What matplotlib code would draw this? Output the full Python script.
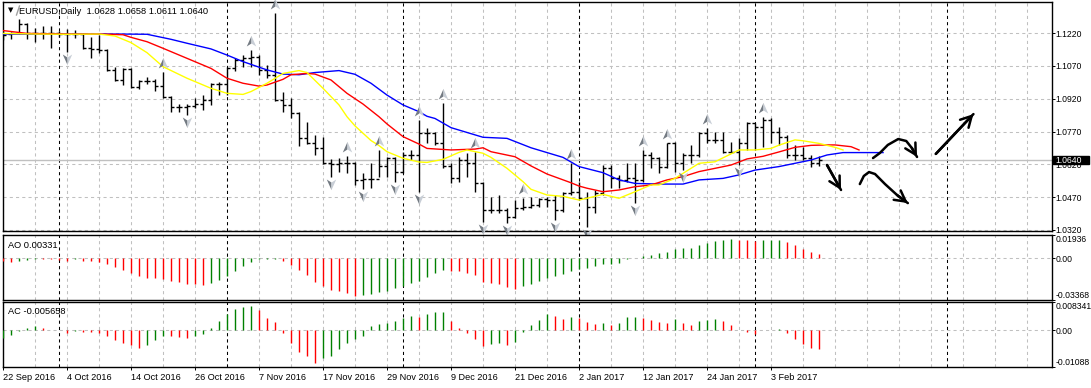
import numpy as np
import matplotlib
matplotlib.use("Agg")
import matplotlib.pyplot as plt
from matplotlib.path import Path
from matplotlib.lines import Line2D
from matplotlib.patches import Rectangle
from matplotlib.transforms import offset_copy

plt.rcParams['font.family'] = ['Liberation Sans', 'DejaVu Sans']

# ---------------- data ----------------
title_text = "EURUSD,Daily  1.0628 1.0658 1.0611 1.0640"
ao_text = "AO 0.00331"
ac_text = "AC -0.005658"

date_labels = ['22 Sep 2016', '4 Oct 2016', '14 Oct 2016', '26 Oct 2016', '7 Nov 2016',
               '17 Nov 2016', '29 Nov 2016', '9 Dec 2016', '21 Dec 2016', '2 Jan 2017',
               '12 Jan 2017', '24 Jan 2017', '3 Feb 2017']
date_bars = [0, 8, 16, 24, 32, 40, 48, 56, 64, 72, 80, 88, 96]
month_starts = [7, 28, 50, 72, 94, 118]

opens = [1.1215, 1.1215, 1.1219, 1.1262, 1.1219, 1.1219, 1.1222, 1.1219, 1.1215, 1.1215,
         1.1215, 1.1151, 1.1146, 1.1143, 1.1052, 1.1006, 1.1055, 1.0972, 1.1001, 1.1001,
         1.0978, 1.0930, 1.0881, 1.0881, 1.0887, 1.0896, 1.0915, 1.0988, 1.0988, 1.1059,
         1.1097, 1.1105, 1.1113, 1.1052, 1.1029, 1.0915, 1.0892, 1.0854, 1.0739, 1.0716,
         1.0693, 1.0625, 1.0622, 1.0625, 1.0628, 1.0549, 1.0553, 1.0552, 1.0614, 1.0648,
         1.0587, 1.0663, 1.0663, 1.0762, 1.0762, 1.0716, 1.0614, 1.0556, 1.0640, 1.0625,
         1.0533, 1.0411, 1.0411, 1.0411, 1.0381, 1.0419, 1.0427, 1.0434, 1.0460, 1.0457,
         1.0411, 1.0488, 1.0495, 1.0465, 1.0427, 1.0488, 1.0602, 1.0556, 1.0549, 1.0556,
         1.0549, 1.0663, 1.0648, 1.0610, 1.0716, 1.0625, 1.0663, 1.0663, 1.0762, 1.0732,
         1.0732, 1.0678, 1.0678, 1.0716, 1.0808, 1.0793, 1.0823, 1.0770, 1.0747, 1.0663,
         1.0663, 1.0648, 1.0628]
highs = [1.1235, 1.1227, 1.1283, 1.1265, 1.1242, 1.1253, 1.1253, 1.1232, 1.1238, 1.1235,
         1.1219, 1.1204, 1.1212, 1.1146, 1.1067, 1.1059, 1.1059, 1.1006, 1.1018, 1.1009,
         1.1044, 1.0933, 1.0896, 1.0896, 1.0922, 1.0937, 1.0991, 1.0999, 1.1067, 1.1105,
         1.1120, 1.1143, 1.1120, 1.1075, 1.1311, 1.0953, 1.0922, 1.0861, 1.0815, 1.0754,
         1.0747, 1.0643, 1.0648, 1.0658, 1.0632, 1.0579, 1.0625, 1.0686, 1.0655, 1.0655,
         1.0678, 1.0686, 1.0823, 1.0785, 1.0770, 1.0899, 1.0625, 1.0655, 1.0671, 1.0675,
         1.0541, 1.0472, 1.0480, 1.0419, 1.0457, 1.0465, 1.0472, 1.0465, 1.0472, 1.0480,
         1.0495, 1.0625, 1.0541, 1.0495, 1.0503, 1.0617, 1.0617, 1.0572, 1.0625, 1.0625,
         1.0686, 1.0678, 1.0655, 1.0719, 1.0724, 1.0671, 1.0708, 1.0770, 1.0785, 1.0770,
         1.0770, 1.0724, 1.0739, 1.0815, 1.0811, 1.0838, 1.0831, 1.0793, 1.0754, 1.0708,
         1.0701, 1.0663, 1.0658]
lows = [1.1189, 1.1192, 1.1215, 1.1192, 1.1181, 1.1192, 1.1151, 1.1201, 1.1136, 1.1197,
        1.1146, 1.1105, 1.1131, 1.1049, 1.1003, 1.0983, 1.0968, 1.0963, 1.0988, 1.0957,
        1.0922, 1.0861, 1.0861, 1.0846, 1.0876, 1.0869, 1.0892, 1.0937, 1.0937, 1.1049,
        1.1067, 1.1067, 1.1029, 1.1014, 1.0911, 1.0861, 1.0831, 1.0704, 1.0713, 1.0663,
        1.0622, 1.0564, 1.0587, 1.0579, 1.0526, 1.0506, 1.0511, 1.0564, 1.0564, 1.0541,
        1.0579, 1.0640, 1.0495, 1.0716, 1.0708, 1.0602, 1.0533, 1.0541, 1.0564, 1.0495,
        1.0358, 1.0396, 1.0396, 1.0350, 1.0373, 1.0411, 1.0419, 1.0427, 1.0427, 1.0366,
        1.0404, 1.0480, 1.0457, 1.0335, 1.0396, 1.0480, 1.0511, 1.0511, 1.0541, 1.0442,
        1.0541, 1.0602, 1.0579, 1.0602, 1.0587, 1.0594, 1.0625, 1.0655, 1.0716, 1.0716,
        1.0671, 1.0671, 1.0617, 1.0686, 1.0686, 1.0701, 1.0716, 1.0708, 1.0648, 1.0640,
        1.0640, 1.0607, 1.0611]
closes = [1.1212, 1.1219, 1.1262, 1.1219, 1.1219, 1.1222, 1.1219, 1.1215, 1.1215, 1.1215,
          1.1151, 1.1146, 1.1143, 1.1052, 1.1006, 1.1055, 1.0972, 1.1001, 1.1001, 1.0978,
          1.0930, 1.0881, 1.0881, 1.0887, 1.0896, 1.0915, 1.0988, 1.0988, 1.1059, 1.1097,
          1.1105, 1.1113, 1.1052, 1.1029, 1.0915, 1.0892, 1.0854, 1.0739, 1.0716, 1.0693,
          1.0625, 1.0622, 1.0625, 1.0628, 1.0549, 1.0553, 1.0552, 1.0614, 1.0648, 1.0587,
          1.0663, 1.0663, 1.0762, 1.0762, 1.0716, 1.0614, 1.0556, 1.0640, 1.0625, 1.0533,
          1.0411, 1.0411, 1.0411, 1.0381, 1.0419, 1.0427, 1.0434, 1.0460, 1.0457, 1.0411,
          1.0488, 1.0495, 1.0465, 1.0427, 1.0488, 1.0602, 1.0556, 1.0549, 1.0556, 1.0549,
          1.0663, 1.0648, 1.0610, 1.0716, 1.0625, 1.0663, 1.0663, 1.0762, 1.0732, 1.0732,
          1.0678, 1.0678, 1.0716, 1.0808, 1.0793, 1.0823, 1.0770, 1.0747, 1.0663, 1.0663,
          1.0648, 1.0628, 1.0640]

# alligator lines (bar index, value) read at sample bars
jaw_x = [0, 5, 10, 15, 18, 21, 23, 26, 28, 30, 33, 35, 37, 39, 42, 44, 46, 48, 50, 52,
         53, 54, 56, 60, 63, 66, 70, 72, 75, 77, 79, 82, 85, 87, 90, 92, 94, 97, 99, 101,
         103, 105, 110]
jaw_y = [1.1216, 1.1215, 1.1216, 1.1216, 1.1215, 1.1192, 1.1174, 1.1148, 1.1120, 1.1090,
         1.1052, 1.1033, 1.1030, 1.1040, 1.1049, 1.1032, 1.0991, 1.0937, 1.0892, 1.0861,
         1.0840, 1.0830, 1.0788, 1.0744, 1.0739, 1.0696, 1.0652, 1.0610, 1.0582, 1.0549,
         1.0533, 1.0530, 1.0530, 1.0549, 1.0556, 1.0572, 1.0594, 1.0610, 1.0625, 1.0640,
         1.0663, 1.0674, 1.0674]
teeth_x = [0, 3, 8, 12, 15, 16, 18, 20, 23, 26, 28, 30, 32, 33, 35, 36, 38, 39, 41, 43,
           45, 47, 48, 50, 52, 53, 56, 59, 60, 61, 64, 66, 68, 71, 72, 73, 75, 77, 79, 81,
           83, 85, 87, 89, 91, 93, 95, 97, 99, 101, 103, 104, 106, 107]
teeth_y = [1.1232, 1.1219, 1.1216, 1.1216, 1.1213, 1.1201, 1.1181, 1.1151, 1.1105, 1.1059,
           1.1014, 1.0991, 1.0978, 1.0983, 1.1009, 1.1030, 1.1036, 1.1033, 1.1006, 1.0945,
           1.0896, 1.0838, 1.0805, 1.0747, 1.0713, 1.0693, 1.0686, 1.0690, 1.0696, 1.0678,
           1.0655, 1.0613, 1.0576, 1.0536, 1.0521, 1.0511, 1.0495, 1.0503, 1.0518, 1.0526,
           1.0549, 1.0564, 1.0587, 1.0602, 1.0617, 1.0645, 1.0657, 1.0677, 1.0698, 1.0707,
           1.0709, 1.0709, 1.0701, 1.0686]
lips_x = [0, 4, 8, 12, 14, 16, 18, 20, 23, 26, 28, 30, 31, 33, 35, 37, 38, 40, 42, 43,
          44, 46, 47, 48, 50, 52, 53, 55, 57, 58, 60, 61, 63, 65, 66, 68, 70, 72, 73, 75,
          77, 79, 81, 82, 84, 86, 87, 89, 91, 92, 94, 96, 97, 99, 100, 102, 104, 105]
lips_y = [1.1219, 1.1216, 1.1215, 1.1216, 1.1207, 1.1177, 1.1131, 1.1067, 1.1014, 1.0968,
          1.0945, 1.0940, 1.0953, 1.0991, 1.1036, 1.1049, 1.1040, 1.0968, 1.0892, 1.0838,
          1.0796, 1.0729, 1.0706, 1.0678, 1.0648, 1.0631, 1.0629, 1.0643, 1.0675, 1.0686,
          1.0671, 1.0652, 1.0602, 1.0541, 1.0506, 1.0480, 1.0474, 1.0457, 1.0465, 1.0483,
          1.0465, 1.0495, 1.0526, 1.0526, 1.0556, 1.0602, 1.0625, 1.0632, 1.0668, 1.0686,
          1.0686, 1.0693, 1.0708, 1.0732, 1.0728, 1.0716, 1.0698, 1.0686]

fractal_up = [20, 31, 34, 43, 47, 52, 55, 59, 65, 71, 80, 83, 88, 95]
fractal_down = [8, 23, 41, 45, 49, 52, 60, 63, 69, 73, 79, 85, 92]

ao_values = [-0.0024, -0.0027, -0.0019, -0.0010, -0.0005, -0.0006, -0.0007, -0.0009, -0.0020, -0.0005,
             -0.0019, -0.0024, -0.0029, -0.0043, -0.0067, -0.0091, -0.0115, -0.0143, -0.0159, -0.0162,
             -0.0170, -0.0186, -0.0194, -0.0205, -0.0210, -0.0216, -0.0200, -0.0176, -0.0140, -0.0103,
             -0.0060, -0.0027, -0.0005, -0.0003, -0.0002, -0.0021, -0.0051, -0.0092, -0.0132, -0.0189,
             -0.0221, -0.0253, -0.0267, -0.0283, -0.0302, -0.0300, -0.0286, -0.0270, -0.0264, -0.0240,
             -0.0221, -0.0200, -0.0186, -0.0151, -0.0119, -0.0094, -0.0103, -0.0106, -0.0119, -0.0134,
             -0.0192, -0.0200, -0.0207, -0.0229, -0.0249, -0.0224, -0.0205, -0.0183, -0.0156, -0.0143,
             -0.0127, -0.0103, -0.0086, -0.0081, -0.0060, -0.0048, -0.0047, -0.0036, -0.0003, 0.0002,
             0.0021, 0.0029, 0.0043, 0.0054, 0.0078, 0.0084, 0.0085, 0.0110, 0.0127, 0.0140,
             0.0146, 0.0157, 0.0152, 0.0148, 0.0144, 0.0146, 0.0148, 0.0150, 0.0133, 0.0110,
             0.0078, 0.0051, 0.0033]
ac_values = [-0.0022, -0.0014, -0.0002, 0.0007, 0.0013, 0.0006, 0.0002, 0.0000, -0.0008, -0.0003,
             -0.0004, -0.0005, -0.0009, -0.0017, -0.0030, -0.0038, -0.0043, -0.0052, -0.0044, -0.0029,
             -0.0017, -0.0018, -0.0020, -0.0023, -0.0017, -0.0010, 0.0007, 0.0027, 0.0047, 0.0062,
             0.0068, 0.0071, 0.0059, 0.0037, 0.0024, -0.0007, -0.0037, -0.0063, -0.0077, -0.0098,
             -0.0082, -0.0077, -0.0056, -0.0037, -0.0027, -0.0018, 0.0011, 0.0017, 0.0022, 0.0026,
             0.0035, 0.0041, 0.0039, 0.0047, 0.0053, 0.0054, 0.0028, 0.0007, -0.0007, -0.0025,
             -0.0048, -0.0042, -0.0039, -0.0043, -0.0035, -0.0004, 0.0015, 0.0030, 0.0047, 0.0041,
             0.0033, 0.0038, 0.0035, 0.0024, 0.0018, 0.0022, 0.0015, 0.0021, 0.0038, 0.0039,
             0.0035, 0.0030, 0.0024, 0.0021, 0.0033, 0.0022, 0.0015, 0.0027, 0.0031, 0.0032,
             0.0027, 0.0015, 0.0000, -0.0005, -0.0010, 0.0000, 0.0001, 0.0004, -0.0008, -0.0026,
             -0.0041, -0.0053, -0.0057]

price_levels = [1.0320, 1.0470, 1.0620, 1.0770, 1.0920, 1.1070, 1.1220]
last_price = 1.0640
price_range = (1.03154, 1.13649)
ao_range = (-0.03368, 0.01936)
ac_range = (-0.01088, 0.008341)

# hand drawn arrows on the right (bar index, price)
sketches = [
    [(103.0, 1.0617), (104.75, 1.0503)],
    [(108.75, 1.0649), (109.6, 1.0672), (110.6, 1.0709), (111.9, 1.0736),
     (112.9, 1.0727), (113.6, 1.0695), (114.25, 1.0654)],
    [(107.1, 1.0530), (107.6, 1.0567), (108.25, 1.0585), (109.0, 1.0576),
     (110.25, 1.0530), (111.75, 1.0480), (113.1, 1.0443)],
    [(116.6, 1.0668), (121.3, 1.0850)],
]

# ---------------- figure ----------------
W, H = 1091.0, 388.0
fig = plt.figure(figsize=(W / 100, H / 100), dpi=100)


def px_box(x0, y0, x1, y1):
    return [x0 / W, 1 - y1 / H, (x1 - x0) / W, (y1 - y0) / H]


ax = fig.add_axes(px_box(2.5, 1.5, 1052, 231))
ax_ao = fig.add_axes(px_box(2.5, 234.5, 1052, 300))
ax_ac = fig.add_axes(px_box(2.5, 302, 1052, 367))

grid_kw = dict(color='#c0c0c0', lw=0.75, ls=(0, (3, 3)), zorder=0)
sep_kw = dict(color='black', lw=0.75, ls=(0, (3, 3)), zorder=0.5)

for a in (ax, ax_ao, ax_ac):
    a.set_xlim(-0.06, 131.12)
    for v in range(0, 132, 4):
        a.axvline(v, **grid_kw)
    for v in month_starts:
        a.axvline(v, **sep_kw)
    for s in a.spines.values():
        s.set_color('black')
        s.set_linewidth(1)
    a.tick_params(axis='x', bottom=False, labelbottom=False)
    a.yaxis.tick_right()
    a.tick_params(axis='y', length=2, width=0.7, pad=0.6, labelsize=6.2, colors='black')

# main price panel
ax.set_ylim(*price_range)
ax.set_yticks(price_levels)
ax.set_yticklabels([f'{p:.4f}' for p in price_levels])
for p in price_levels:
    ax.axhline(p, **grid_kw)
ax.axhline(last_price, color='#c0c0c0', lw=1, zorder=0.6)

bar_idx = np.arange(len(closes))
ax.vlines(bar_idx, lows, highs, color='black', lw=1, zorder=3)
ax.hlines(opens, bar_idx - 0.42, bar_idx, color='black', lw=1, zorder=3)
ax.hlines(closes, bar_idx, bar_idx + 0.42, color='black', lw=1, zorder=3)

ax.plot(jaw_x, jaw_y, color='#0000ff', lw=1, zorder=4)
ax.plot(teeth_x, teeth_y, color='#ff0000', lw=1, zorder=4)
ax.plot(lips_x, lips_y, color='#ffff00', lw=1, zorder=4)

# fractal arrows (two shaded halves)
up_left = Path([(0, 1), (-0.85, -0.9), (0, -0.35), (0, 1)],
               [Path.MOVETO, Path.LINETO, Path.LINETO, Path.CLOSEPOLY])
up_right = Path([(0, 1), (0.85, -0.9), (0, -0.35), (0, 1)],
                [Path.MOVETO, Path.LINETO, Path.LINETO, Path.CLOSEPOLY])
dn_left = Path([(0, -1), (-0.85, 0.9), (0, 0.35), (0, -1)],
               [Path.MOVETO, Path.LINETO, Path.LINETO, Path.CLOSEPOLY])
dn_right = Path([(0, -1), (0.85, 0.9), (0, 0.35), (0, -1)],
                [Path.MOVETO, Path.LINETO, Path.LINETO, Path.CLOSEPOLY])
up_tr = offset_copy(ax.transData, fig=fig, x=0, y=9, units='dots')
dn_tr = offset_copy(ax.transData, fig=fig, x=0, y=-7, units='dots')
up_y = [highs[i] for i in fractal_up]
dn_y = [lows[i] for i in fractal_down]
for mk, col in ((up_left, '#737a82'), (up_right, '#c8ced6')):
    ax.plot(fractal_up, up_y, ls='none', marker=mk, ms=8, mfc=col, mec='none',
            transform=up_tr, zorder=5, clip_on=False)
for mk, col in ((dn_left, '#737a82'), (dn_right, '#c8ced6')):
    ax.plot(fractal_down, dn_y, ls='none', marker=mk, ms=8, mfc=col, mec='none',
            transform=dn_tr, zorder=5, clip_on=False)

# hand drawn arrows
for pts in sketches:
    xs = [p[0] for p in pts]
    ys = [p[1] for p in pts]
    ax.plot(xs, ys, color='black', lw=1.8, solid_capstyle='round', zorder=6)
    ax.annotate('', xy=pts[-1], xytext=pts[-2],
                arrowprops=dict(arrowstyle='->,head_length=0.55,head_width=0.3',
                                color='black', lw=1.8, mutation_scale=14,
                                shrinkA=0, shrinkB=0), zorder=6)

# current price box on the right scale
ax.add_patch(Rectangle((1.0008, last_price - 0.0019), 0.0343, 0.0038,
                       transform=ax.get_yaxis_transform(), facecolor='black',
                       edgecolor='black', clip_on=False, zorder=10))
ax.text(1.0036, last_price, f'{last_price:.4f}', transform=ax.get_yaxis_transform(),
        ha='left', va='center', fontsize=6.2, color='white', clip_on=False, zorder=11)

# AO panel
ax_ao.set_ylim(*ao_range)
ax_ao.axhline(0, **grid_kw)
ao_colors = ['#ff0000'] + ['#008000' if b > a else '#ff0000'
                           for a, b in zip(ao_values, ao_values[1:])]
ax_ao.vlines(np.arange(len(ao_values)), 0, ao_values, colors=ao_colors, lw=1, zorder=3)
ax_ao.set_yticks([ao_range[1], 0, ao_range[0]])
ax_ao.set_yticklabels(['0.01936', '0.00', '-0.03368'])

# AC panel
ax_ac.set_ylim(*ac_range)
ax_ac.axhline(0, **grid_kw)
ac_colors = ['#008000'] + ['#008000' if b > a else '#ff0000'
                           for a, b in zip(ac_values, ac_values[1:])]
ax_ac.vlines(np.arange(len(ac_values)), 0, ac_values, colors=ac_colors, lw=1, zorder=3)
ax_ac.set_yticks([ac_range[1], 0, ac_range[0]])
ax_ac.set_yticklabels(['0.008341', '0.00', '-0.01088'])

for a in (ax_ao, ax_ac):
    labs = a.get_yticklabels()
    labs[0].set_va('top')
    labs[2].set_va('bottom')

# date axis
ax_ac.set_xticks(date_bars)
ax_ac.set_xticklabels(date_labels)
ax_ac.tick_params(axis='x', bottom=True, labelbottom=True, length=2.5, width=0.7,
                  pad=1.5, labelsize=6.6)
for t in ax_ac.get_xticklabels():
    t.set_ha('left')

# header texts
fig.text(11 / W, 1 - 10 / H, '\u25bc', fontsize=5, ha='center', va='center',
         family='DejaVu Sans')
fig.add_artist(Line2D([16.5 / W, 19.5 / W], [1 - 15 / H, 1 - 6 / H], color='#a0a0a0', lw=1))
fig.text(19 / W, 1 - 11 / H, title_text, fontsize=6.7, va='center')
fig.text(8 / W, 1 - 245 / H, ao_text, fontsize=6.7, va='center')
fig.text(8 / W, 1 - 311.5 / H, ac_text, fontsize=6.7, va='center')

fig.savefig('out.png', dpi=100)
